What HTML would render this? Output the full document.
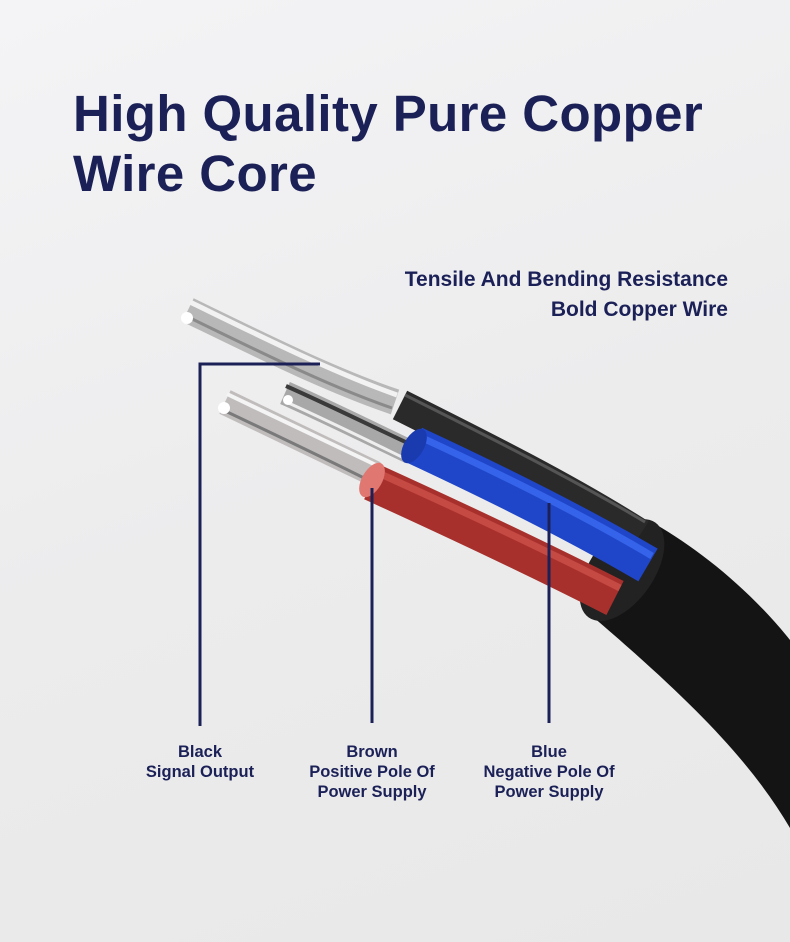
<!DOCTYPE html>
<html><head><meta charset="utf-8"><style>
html,body{margin:0;padding:0}
body{width:790px;height:942px;overflow:hidden;background:linear-gradient(160deg,#f4f4f6 0%,#ececed 50%,#e8e8e8 100%);font-family:"Liberation Sans",sans-serif;position:relative}
.t{position:absolute;color:#1b2157;font-weight:bold}
h1{position:absolute;left:73px;top:84px;margin:0;font-size:51px;line-height:60px;color:#1b2157;letter-spacing:0.4px}
.sub{right:62px;top:265px;font-size:21px;line-height:30px;text-align:right}
.lab{font-size:16.5px;line-height:20px;text-align:center;width:200px;top:742px}
svg{position:absolute;left:0;top:0}
</style></head><body>
<svg width="790" height="942">
<!-- outer jacket -->
<path d="M655,524 C700,550 750,590 790,640 L790,828 C750,760 690,700 592,616 Z" fill="#141414"/>
<ellipse cx="622" cy="570" rx="32" ry="58" transform="rotate(35 622 570)" fill="#222"/>
<g fill="none" stroke-linecap="butt">
<!-- inner black -->
<path d="M400,405 C480,445 570,490 640,535" stroke="#2a2a2a" stroke-width="32"/>
<path d="M405,395 C485,435 575,480 645,522" stroke="#555" stroke-width="3"/>
<!-- top silver -->
<path d="M188,310 C260,345 330,380 395,402" stroke="#b8b8b8" stroke-width="26"/>
<path d="M190,302 C262,337 332,372 397,395" stroke="#f2f2f2" stroke-width="5"/>
<path d="M186,316 C258,351 328,386 392,408" stroke="#8a8a8a" stroke-width="3"/>
<!-- red -->
<path d="M372,482 C460,522 550,565 615,598" stroke="#a8302c" stroke-width="38"/>
<path d="M376,472 C465,512 555,555 620,588" stroke="#c54a44" stroke-width="7"/>
<!-- blue -->
<path d="M414,445 C500,485 580,525 648,565" stroke="#1f46c8" stroke-width="38"/>
<path d="M418,436 C505,476 585,516 652,556" stroke="#3563ea" stroke-width="7"/>
<!-- middle silver -->
<path d="M285,393 C330,413 370,433 410,452" stroke="#a8a8a8" stroke-width="24"/>
<path d="M286,386 C331,406 371,426 412,445" stroke="#3a3a3a" stroke-width="4"/>
<path d="M284,401 C329,421 369,441 408,460" stroke="#eee" stroke-width="3"/>
<!-- lower silver -->
<path d="M225,402 C280,428 330,452 375,474" stroke="#c0bcbc" stroke-width="26"/>
<path d="M227,394 C282,420 332,444 378,466" stroke="#f4f4f4" stroke-width="4"/>
<path d="M223,410 C278,436 328,460 372,482" stroke="#7a7a7a" stroke-width="3"/>
</g>
<ellipse cx="372" cy="480" rx="10" ry="19" transform="rotate(30 372 480)" fill="#e07770"/>
<ellipse cx="414" cy="446" rx="10" ry="19" transform="rotate(30 414 446)" fill="#1a3ab0"/>
<circle cx="187" cy="318" r="6" fill="#fff"/><circle cx="224" cy="408" r="6" fill="#fff"/><circle cx="288" cy="400" r="5" fill="#fff"/>
<!-- connectors -->
<g stroke="#1b2157" stroke-width="3" fill="none">
<path d="M320,364 H200 V726"/>
<path d="M372,488 V723"/>
<path d="M549,503 V723"/>
</g>
</svg>
<h1>High Quality Pure Copper<br>Wire Core</h1>
<div class="t sub">Tensile And Bending Resistance<br>Bold Copper Wire</div>
<div class="t lab" style="left:100px">Black<br>Signal Output</div>
<div class="t lab" style="left:272px">Brown<br>Positive Pole Of<br>Power Supply</div>
<div class="t lab" style="left:449px">Blue<br>Negative Pole Of<br>Power Supply</div>
</body></html>
